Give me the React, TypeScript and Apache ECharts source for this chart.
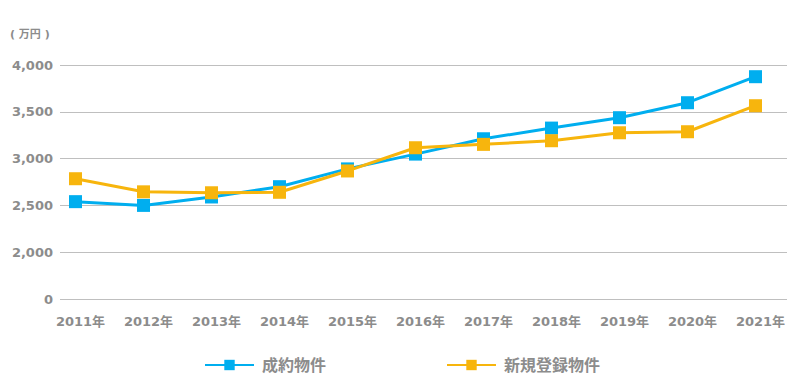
import React, { useEffect, useRef } from "react";
import * as echarts from "echarts";

const categories = ["2011年", "2012年", "2013年", "2014年", "2015年", "2016年", "2017年", "2018年", "2019年", "2020年", "2021年"];
const seriesNames = ["成約物件", "新規登録物件"];
const contracted = [2540, 2500, 2590, 2700, 2890, 3048, 3212, 3326, 3437, 3597, 3875];
const newlyListed = [2785, 2645, 2635, 2640, 2868, 3116, 3152, 3191, 3276, 3287, 3565];
// Broken axis: the bottom tick (1500 on the scale) is labelled "0"
const yTickValues = [1500, 2000, 2500, 3000, 3500, 4000];
const yTickLabels = ["0", "2,000", "2,500", "3,000", "3,500", "4,000"];
const unitLabel = "( 万円 )";

const BLUE = "#00AEEF";
const GOLD = "#F7B50D";
const GRAY = "#8C8C8C";
const FONT = "'DejaVu Sans', 'Noto Sans CJK JP', sans-serif";

export default function App() {
  const ref = useRef<HTMLDivElement>(null);
  useEffect(() => {
    if (!ref.current) return;
    const chart = echarts.init(ref.current, null, { renderer: "svg" });
    const yMin = yTickValues[0];
    const yMax = yTickValues[yTickValues.length - 1];
    chart.setOption({
      animation: false,
      backgroundColor: "#ffffff",
      textStyle: { fontFamily: FONT },
      graphic: [
        {
          type: "text",
          left: 10,
          top: 29,
          style: { text: unitLabel, fill: GRAY, font: `bold 11px ${FONT}` },
        },
      ],
      legend: {
        left: 204,
        top: 357,
        padding: 0,
        itemWidth: 49,
        itemHeight: 13,
        itemGap: 120,
        textStyle: { color: GRAY, fontSize: 16, fontWeight: "bold", fontFamily: FONT, padding: [0, 0, 0, 3] },
        data: seriesNames,
      },
      grid: [
        { left: 41.5, right: 10.5, top: 65, bottom: 91 },
        { left: 60, right: 13, top: 65, bottom: 91 },
      ],
      xAxis: [
        {
          type: "category",
          gridIndex: 0,
          data: categories,
          boundaryGap: true,
          axisLine: { show: false },
          axisTick: { show: false },
          axisLabel: {
            color: GRAY,
            fontSize: 13,
            fontWeight: "bold",
            fontFamily: FONT,
            margin: 16,
            interval: 0,
            padding: [0, 0, 0, 10],
          },
        },
        { type: "category", gridIndex: 1, data: categories, show: false },
      ],
      yAxis: [
        { type: "value", gridIndex: 0, min: yMin, max: yMax, interval: 500, show: false, splitLine: { show: false } },
        {
          type: "value",
          gridIndex: 1,
          min: yMin,
          max: yMax,
          interval: 500,
          axisLine: { show: false },
          axisTick: { show: false },
          axisLabel: {
            color: GRAY,
            fontSize: 13,
            fontWeight: "bold",
            fontFamily: FONT,
            margin: 7,
            formatter: (v: number) => {
              const i = yTickValues.indexOf(v);
              return i >= 0 ? yTickLabels[i] : "";
            },
          },
          splitLine: { show: true, lineStyle: { color: "#BFBFBF", width: 1 } },
        },
      ],
      series: [
        {
          name: seriesNames[0],
          type: "line",
          xAxisIndex: 0,
          yAxisIndex: 0,
          data: contracted,
          symbol: "rect",
          symbolSize: 13,
          color: BLUE,
          lineStyle: { width: 3, color: BLUE },
          itemStyle: { color: BLUE },
          z: 2,
        },
        {
          name: seriesNames[1],
          type: "line",
          xAxisIndex: 0,
          yAxisIndex: 0,
          data: newlyListed,
          symbol: "rect",
          symbolSize: 13,
          color: GOLD,
          lineStyle: { width: 3, color: GOLD },
          itemStyle: { color: GOLD },
          z: 3,
        },
      ],
    });
    return () => chart.dispose();
  }, []);
  return <div ref={ref} style={{ width: 800, height: 390, position: "absolute", left: 0, top: 0 }} />;
}
